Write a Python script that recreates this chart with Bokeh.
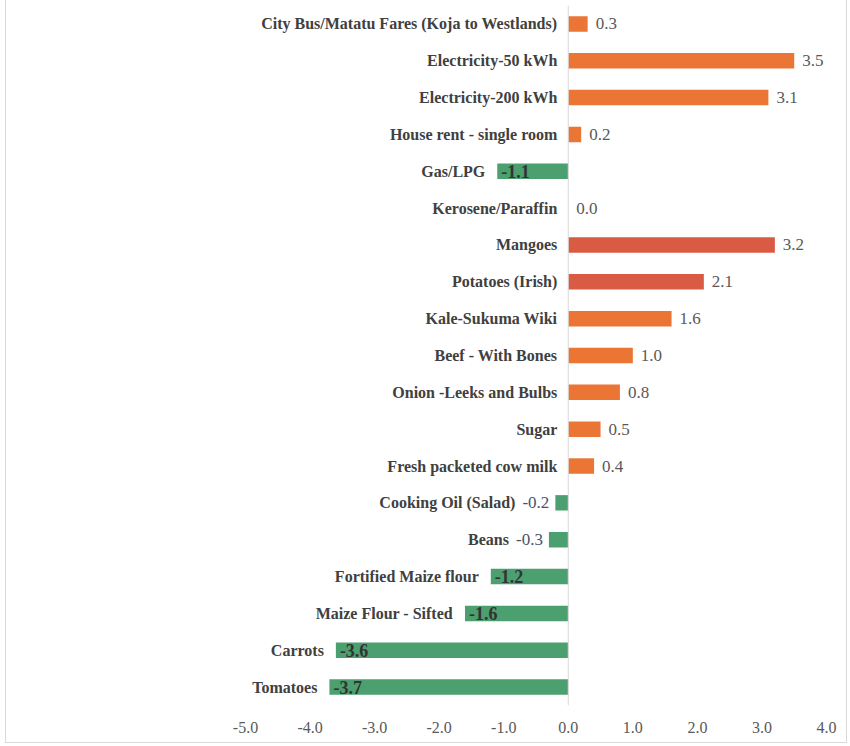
from bokeh.plotting import figure
from bokeh.models import (ColumnDataSource, Span, FixedTicker, NumeralTickFormatter,
                          Range1d, InlineStyleSheet)
from bokeh.core.properties import value
from bokeh.embed import file_html
from bokeh.resources import INLINE

categories = [
    "City Bus/Matatu Fares (Koja to Westlands)",
    "Electricity-50 kWh",
    "Electricity-200 kWh",
    "House rent - single room",
    "Gas/LPG",
    "Kerosene/Paraffin",
    "Mangoes",
    "Potatoes (Irish)",
    "Kale-Sukuma Wiki",
    "Beef - With Bones",
    "Onion -Leeks and Bulbs",
    "Sugar",
    "Fresh packeted cow milk",
    "Cooking Oil (Salad)",
    "Beans",
    "Fortified Maize flour",
    "Maize Flour - Sifted",
    "Carrots",
    "Tomatoes",
]
values = [0.3, 3.5, 3.1, 0.2, -1.1, 0.0, 3.2, 2.1, 1.6, 1.0, 0.8, 0.5, 0.4,
          -0.2, -0.3, -1.2, -1.6, -3.6, -3.7]
highlight = ["Mangoes", "Potatoes (Irish)"]
x_ticks = [-5.0, -4.0, -3.0, -2.0, -1.0, 0.0, 1.0, 2.0, 3.0, 4.0]

ORANGE = "#EB7534"
RED = "#DA5B44"
GREEN = "#4C9F6F"

colors = []
for c, v in zip(categories, values):
    if v < 0:
        colors.append(GREEN)
    elif v == 0:
        colors.append("rgba(0,0,0,0)")
    elif c in highlight:
        colors.append(RED)
    else:
        colors.append(ORANGE)

# label placement rules
cat_x, cat_off = [], []
val_x, val_off, val_align, val_style, val_color, val_size = [], [], [], [], [], []
for v in values:
    if v >= 0:
        cat_x.append(0.0); cat_off.append(-11)
        val_x.append(v); val_off.append(8); val_align.append("left")
        val_style.append("normal"); val_color.append("#595959"); val_size.append("17px")
    elif v > -0.5:
        cat_x.append(v); cat_off.append(-40)
        val_x.append(v); val_off.append(-6); val_align.append("right")
        val_style.append("normal"); val_color.append("#44546A"); val_size.append("17px")
    else:
        cat_x.append(v); cat_off.append(-12)
        val_x.append(v); val_off.append(4); val_align.append("left")
        val_style.append("bold"); val_color.append("#333333"); val_size.append("18px")

src = ColumnDataSource(dict(cat=categories, val=values, color=colors,
                            cat_x=cat_x, cat_off=cat_off, val_x=val_x,
                            val_off=val_off, val_align=val_align,
                            val_style=val_style, val_color=val_color, val_size=val_size,
                            val_text=[f"{v:.1f}" for v in values]))

border_css = InlineStyleSheet(css="""
:host::after {
  content: "";
  position: absolute;
  left: 5px;
  top: -4px;
  width: 842px;
  height: 747px;
  box-sizing: border-box;
  border: 1px solid #d9d9d9;
  pointer-events: none;
}
""")

p = figure(width=850, height=746, y_range=list(reversed(categories)),
           x_range=Range1d(-5.0, 4.0), output_backend="svg", toolbar_location=None,
           min_border_left=245, min_border_right=24, min_border_top=5, min_border_bottom=41,
           stylesheets=[border_css])

p.hbar(y="cat", left=0, right="val", height=0.42, fill_color="color",
       line_color=None, source=src)
p.add_layout(Span(location=0, dimension="height", line_color="#d9d9d9", line_width=1))

FONT = "Liberation Serif"
p.text(x="cat_x", y="cat", text="cat", x_offset="cat_off", source=src,
       text_align="right", text_baseline="middle", text_font=value(FONT),
       text_font_size="16px", text_font_style="bold", text_color="#404040")
p.text(x="val_x", y="cat", text="val_text", x_offset="val_off", source=src,
       text_align="val_align", text_baseline="middle", text_font=value(FONT),
       text_font_size="val_size", text_color="val_color", text_font_style="val_style")

p.yaxis.visible = False
p.xgrid.visible = False
p.ygrid.visible = False
p.outline_line_color = None
xa = p.xaxis[0]
xa.ticker = FixedTicker(ticks=x_ticks)
xa.formatter = NumeralTickFormatter(format="0.0")
xa.axis_line_color = None
xa.major_tick_line_color = None
xa.minor_tick_line_color = None
xa.major_label_standoff = 10
xa.major_label_text_font = FONT
xa.major_label_text_font_size = "16px"
xa.major_label_text_color = "#595959"

open("out.html", "w").write(file_html(p, INLINE))
